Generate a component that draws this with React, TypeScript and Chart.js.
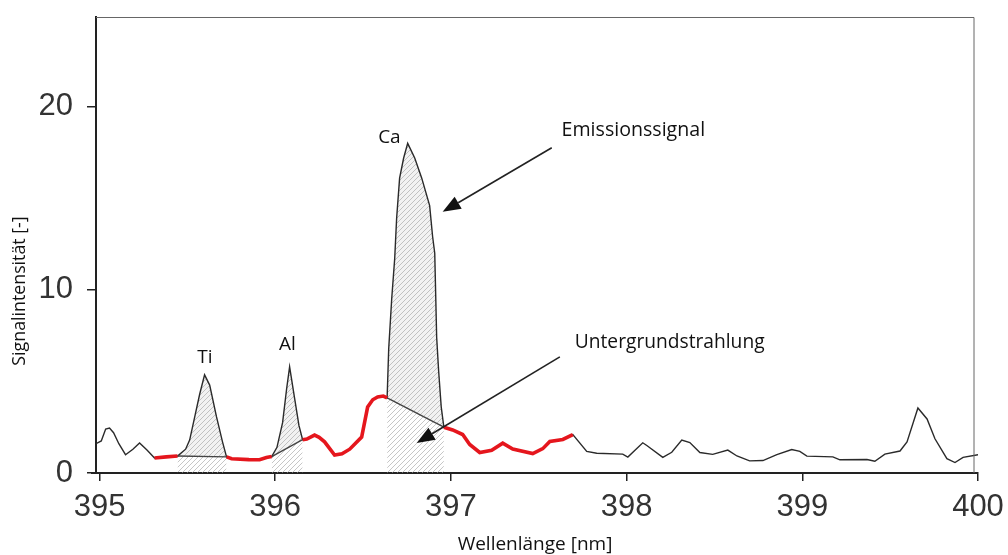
import { useEffect, useRef } from "react";
import { Chart, registerables } from "chart.js";

Chart.register(...registerables);

// Spectrum (wavelength in nm, signal intensity)
const wavelengths = [
  394.98, 395.01, 395.035, 395.057, 395.08, 395.11, 395.148, 395.19, 395.228, 395.27,
  395.313, 395.38, 395.444, 395.49, 395.513, 395.545, 395.57, 395.598, 395.627, 395.666,
  395.70, 395.723, 395.752, 395.85, 395.911, 395.95, 395.98, 396.01, 396.042, 396.065,
  396.082, 396.11, 396.135, 396.156, 396.18, 396.224, 396.25, 396.281, 396.338, 396.38,
  396.424, 396.492, 396.526, 396.555, 396.583, 396.615, 396.637, 396.646, 396.663, 396.68,
  396.691, 396.708, 396.731, 396.754, 396.794, 396.834, 396.879, 396.896, 396.908, 396.919,
  396.93, 396.945, 396.96, 397.01, 397.067, 397.107, 397.164, 397.232, 397.295, 397.352,
  397.466, 397.523, 397.563, 397.637, 397.694, 397.773, 397.83, 397.978, 398.007, 398.092,
  398.115, 398.206, 398.257, 398.314, 398.36, 398.417, 398.49, 398.576, 398.628, 398.70,
  398.776, 398.855, 398.94, 398.986, 399.026, 399.174, 399.214, 399.368, 399.413, 399.47,
  399.556, 399.596, 399.658, 399.71, 399.755, 399.823, 399.869, 399.915, 400.0,
];
const intensities = [
  1.6, 1.75, 2.4, 2.45, 2.2, 1.6, 1.0, 1.3, 1.64, 1.25,
  0.82, 0.88, 0.93, 1.3, 1.8, 3.2, 4.3, 5.36, 4.8, 3.06,
  1.7, 0.88, 0.78, 0.73, 0.72, 0.85, 0.9, 1.4, 2.75, 4.6,
  5.8, 4.1, 2.6, 1.82, 1.85, 2.07, 1.95, 1.7, 0.98, 1.05,
  1.3, 1.96, 3.6, 4.0, 4.15, 4.2, 4.1, 6.8, 9.5, 11.7,
  13.9, 16.1, 17.2, 18.0, 17.2, 16.1, 14.6, 12.9, 12.0, 7.4,
  5.6, 3.6, 2.5, 2.35, 2.1, 1.56, 1.12, 1.24, 1.63, 1.31,
  1.06, 1.33, 1.72, 1.83, 2.1, 1.18, 1.08, 1.03, 0.87, 1.65,
  1.5, 0.85, 1.13, 1.8, 1.66, 1.12, 1.02, 1.25, 0.93, 0.66,
  0.68, 1.0, 1.28, 1.18, 0.92, 0.88, 0.72, 0.74, 0.64, 1.03,
  1.2, 1.7, 3.55, 2.95, 1.87, 0.78, 0.57, 0.85, 1.0,
];

// Background (Untergrund) sections highlighted in red
const redStarts = [395.313, 395.723, 396.156, 396.96];
const redEnds = [395.444, 395.98, 396.637, 397.694];

// Emission peaks
const peakNames = ["Ti", "Al", "Ca"];
const peakStarts = [395.444, 395.98, 396.637];
const peakEnds = [395.723, 396.156, 396.96];

const xTicks = [395, 396, 397, 398, 399, 400];
const yTicks = [0, 10, 20];

const xTitle = "Wellenlänge [nm]";
const yTitle = "Signalintensität [-]";
const labelEmission = "Emissionssignal";
const labelBackground = "Untergrundstrahlung";

const points = wavelengths.map((x, i) => ({ x, y: intensities[i] }));
const inRange = (a: number, b: number) => points.filter((p) => p.x >= a - 1e-9 && p.x <= b + 1e-9);

function makeHatch() {
  const c = document.createElement("canvas");
  c.width = 5;
  c.height = 5;
  const g = c.getContext("2d")!;
  g.strokeStyle = "rgba(160,160,160,0.6)";
  g.lineWidth = 1;
  g.beginPath();
  g.moveTo(-1, 6);
  g.lineTo(6, -1);
  g.moveTo(-1, 1);
  g.lineTo(1, -1);
  g.moveTo(4, 6);
  g.lineTo(6, 4);
  g.stroke();
  const ctx = document.createElement("canvas").getContext("2d")!;
  return ctx.createPattern(c, "repeat")!;
}

const annotationPlugin = {
  id: "annotations",
  afterDraw(chart: any) {
    const { ctx, chartArea, scales } = chart;
    const xs = scales.x;
    const ys = scales.y;
    const px = (v: number) => xs.getPixelForValue(v);
    const py = (v: number) => ys.getPixelForValue(v);
    ctx.save();
    // frame top and right
    ctx.strokeStyle = "#666";
    ctx.lineWidth = 1;
    ctx.beginPath();
    ctx.moveTo(chartArea.left, chartArea.top + 0.5);
    ctx.lineTo(chartArea.right - 4, chartArea.top + 0.5);
    ctx.lineTo(chartArea.right - 4, chartArea.bottom);
    ctx.stroke();
    // x axis stub left of y axis
    ctx.strokeStyle = "#222";
    ctx.lineWidth = 2;
    ctx.beginPath();
    ctx.moveTo(chartArea.left - 5, chartArea.bottom);
    ctx.lineTo(chartArea.left, chartArea.bottom);
    ctx.stroke();

    ctx.fillStyle = "#111";
    ctx.textBaseline = "middle";
    ctx.textAlign = "center";
    ctx.font = "19px 'Open Sans'";
    ctx.fillText(xTitle, 535, 545);
    ctx.save();
    ctx.translate(20, 291);
    ctx.rotate(-Math.PI / 2);
    ctx.font = "17.8px 'Open Sans'";
    ctx.fillText(yTitle, 0, 0);
    ctx.restore();

    // peak labels
    ctx.font = "19px 'Open Sans'";
    const labelPos = [
      [395.6, 6.3],
      [396.07, 7.0],
      [396.65, 18.3],
    ];
    peakNames.forEach((n, i) => ctx.fillText(n, px(labelPos[i][0]), py(labelPos[i][1])));

    // texts
    ctx.textAlign = "left";
    ctx.font = "19.6px 'Open Sans'";
    ctx.fillText(labelEmission, px(397.63), py(18.7));
    ctx.font = "19.2px 'Open Sans'";
    ctx.fillText(labelBackground, px(397.705), py(7.1));

    // arrows
    const arrow = (x1: number, y1: number, x2: number, y2: number) => {
      const a = Math.atan2(y2 - y1, x2 - x1);
      const len = 18;
      const hw = 7;
      const bx = x2 - len * Math.cos(a);
      const by = y2 - len * Math.sin(a);
      ctx.strokeStyle = "#222";
      ctx.lineWidth = 1.6;
      ctx.beginPath();
      ctx.moveTo(x1, y1);
      ctx.lineTo(bx, by);
      ctx.stroke();
      ctx.fillStyle = "#111";
      ctx.beginPath();
      ctx.moveTo(x2, y2);
      ctx.lineTo(bx + hw * Math.sin(a), by - hw * Math.cos(a));
      ctx.lineTo(bx - hw * Math.sin(a), by + hw * Math.cos(a));
      ctx.closePath();
      ctx.fill();
    };
    arrow(px(397.574), py(17.76), px(396.953), py(14.26));
    arrow(px(397.62), py(6.34), px(396.805), py(1.64));
    ctx.restore();
  },
};

export default function App() {
  const ref = useRef<HTMLCanvasElement>(null);
  useEffect(() => {
    if (!ref.current) return;
    const hatch = makeHatch();
    const datasets: any[] = [];
    datasets.push({
      data: points,
      borderColor: "#2a2a2a",
      borderWidth: 1.4,
      pointRadius: 0,
      fill: false,
      order: 2,
    });
    redStarts.forEach((s, i) => {
      datasets.push({
        data: inRange(s, redEnds[i]),
        borderColor: "#e5161d",
        borderWidth: 3.6,
        pointRadius: 0,
        fill: false,
        order: 0,
      });
    });
    peakStarts.forEach((s, i) => {
      const seg = inRange(s, peakEnds[i]);
      datasets.push({
        data: seg,
        borderWidth: 0,
        borderColor: "rgba(0,0,0,0)",
        backgroundColor: hatch,
        pointRadius: 0,
        fill: "origin",
        order: 6,
      });
      const baseIndex = datasets.length;
      datasets.push({
        data: [seg[0], seg[seg.length - 1]],
        borderColor: "#444",
        borderWidth: 1.4,
        pointRadius: 0,
        fill: false,
        order: 1,
      });
      datasets.push({
        data: seg,
        borderWidth: 0,
        borderColor: "rgba(0,0,0,0)",
        backgroundColor: "rgba(170,170,170,0.15)",
        pointRadius: 0,
        fill: baseIndex,
        order: 5,
      });
    });

    const chart = new Chart(ref.current, {
      type: "line",
      data: { datasets },
      options: {
        animation: false,
        responsive: false,
        layout: { padding: { top: 17, right: 30, left: 0, bottom: 0 } },
        plugins: { legend: { display: false }, tooltip: { enabled: false } },
        elements: { line: { tension: 0 } },
        scales: {
          x: {
            type: "linear",
            min: 394.98,
            max: 400,
            afterBuildTicks: (s: any) => {
              s.ticks = xTicks.map((v) => ({ value: v }));
            },
            afterFit: (s: any) => {
              s.height = 82;
              s.paddingLeft = 0;
              s.paddingRight = 0;
            },
            ticks: {
              callback: (v: any) => String(v),
              font: { size: 31, family: "'Liberation Sans', Arial, sans-serif" },
              color: "#333",
              padding: 8,
              maxRotation: 0,
            },
            grid: { display: true, drawOnChartArea: false, drawTicks: true, tickLength: 8, color: "#222", lineWidth: 1.5 },
            border: { display: true, color: "#222", width: 2 },
          },
          y: {
            min: 0,
            max: 24.9,
            afterBuildTicks: (s: any) => {
              s.ticks = yTicks.map((v) => ({ value: v }));
            },
            afterFit: (s: any) => {
              s.width = 96;
              s.paddingTop = 0;
              s.paddingBottom = 0;
            },
            ticks: {
              callback: (v: any) => String(v),
              font: { size: 31, family: "'Liberation Sans', Arial, sans-serif" },
              color: "#333",
              padding: 14,
            },
            grid: { display: true, drawOnChartArea: false, drawTicks: true, tickLength: 9, color: "#222", lineWidth: 1.5 },
            border: { display: true, color: "#222", width: 2 },
          },
        },
      },
      plugins: [annotationPlugin],
    });
    return () => chart.destroy();
  }, []);
  return (
    <div style={{ position: "absolute", left: 0, top: 0, width: 1008, height: 555, background: "#fff" }}>
      <canvas ref={ref} width={1008} height={555} />
    </div>
  );
}
